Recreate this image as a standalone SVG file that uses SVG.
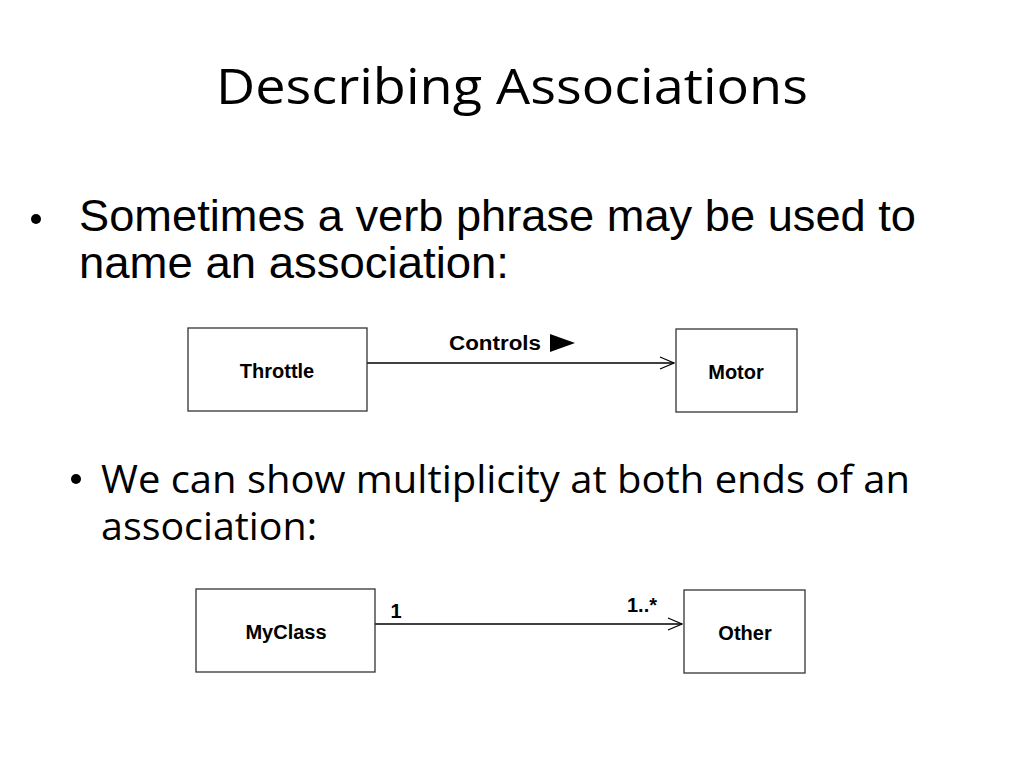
<svg xmlns="http://www.w3.org/2000/svg" width="1024" height="768" viewBox="0 0 1024 768">
<defs>
<style>
.title{font-family:"Open Sans","Noto Sans",sans-serif;font-size:50px;fill:#000}
.arial{font-family:"Liberation Sans",Arial,sans-serif;font-size:44px;fill:#000}
.cal{font-family:"Open Sans","Noto Sans",sans-serif;font-size:38px;fill:#000}
.box{fill:#fff;stroke:#333;stroke-width:1.3}
.lbl{font-family:"Liberation Sans",Arial,sans-serif;font-size:20px;font-weight:bold;fill:#000;text-anchor:middle}
.line{stroke:#000;stroke-width:1.3;fill:none}
</style>
<marker id="open" markerWidth="16" markerHeight="14" refX="15" refY="7" orient="auto" markerUnits="userSpaceOnUse">
<path d="M1,1 L15,7 L1,13" fill="none" stroke="#000" stroke-width="1.2"/>
</marker>
</defs>
<rect width="1024" height="768" fill="#fff"/>
<text class="title" x="216" y="104" textLength="592" lengthAdjust="spacingAndGlyphs">Describing Associations</text>
<circle cx="36" cy="219" r="5" fill="#000"/>
<text class="arial" x="79" y="231" textLength="837" lengthAdjust="spacingAndGlyphs">Sometimes a verb phrase may be used to</text>
<text class="arial" x="79" y="278" textLength="430" lengthAdjust="spacingAndGlyphs">name an association:</text>
<circle cx="76" cy="479" r="5" fill="#000"/>
<text class="cal" x="101" y="493" textLength="809" lengthAdjust="spacingAndGlyphs">We can show multiplicity at both ends of an</text>
<text class="cal" x="101" y="540" textLength="216" lengthAdjust="spacingAndGlyphs">association:</text>
<g id="connectors">
<line class="line" x1="367" y1="363" x2="674" y2="363" marker-end="url(#open)"/>
<line class="line" x1="375" y1="624" x2="682" y2="624" marker-end="url(#open)"/>
</g>
<g id="throttle"><rect class="box" x="188" y="328" width="179" height="83"/><text class="lbl" x="277" y="378">Throttle</text></g>
<g id="motor"><rect class="box" x="676" y="329" width="121" height="83"/><text class="lbl" x="736" y="379">Motor</text></g>
<g id="controls-label"><text class="lbl" x="495" y="350" font-size="22" textLength="92" lengthAdjust="spacingAndGlyphs">Controls</text><path d="M550,334 L575,343 L550,352 Z" fill="#000"/></g>
<g id="myclass"><rect class="box" x="196" y="589" width="179" height="83"/><text class="lbl" x="286" y="639">MyClass</text></g>
<g id="other"><rect class="box" x="684" y="590" width="121" height="83"/><text class="lbl" x="745" y="640">Other</text></g>
<text class="lbl" x="396" y="618">1</text>
<text class="lbl" x="642" y="612">1..*</text>
</svg>
